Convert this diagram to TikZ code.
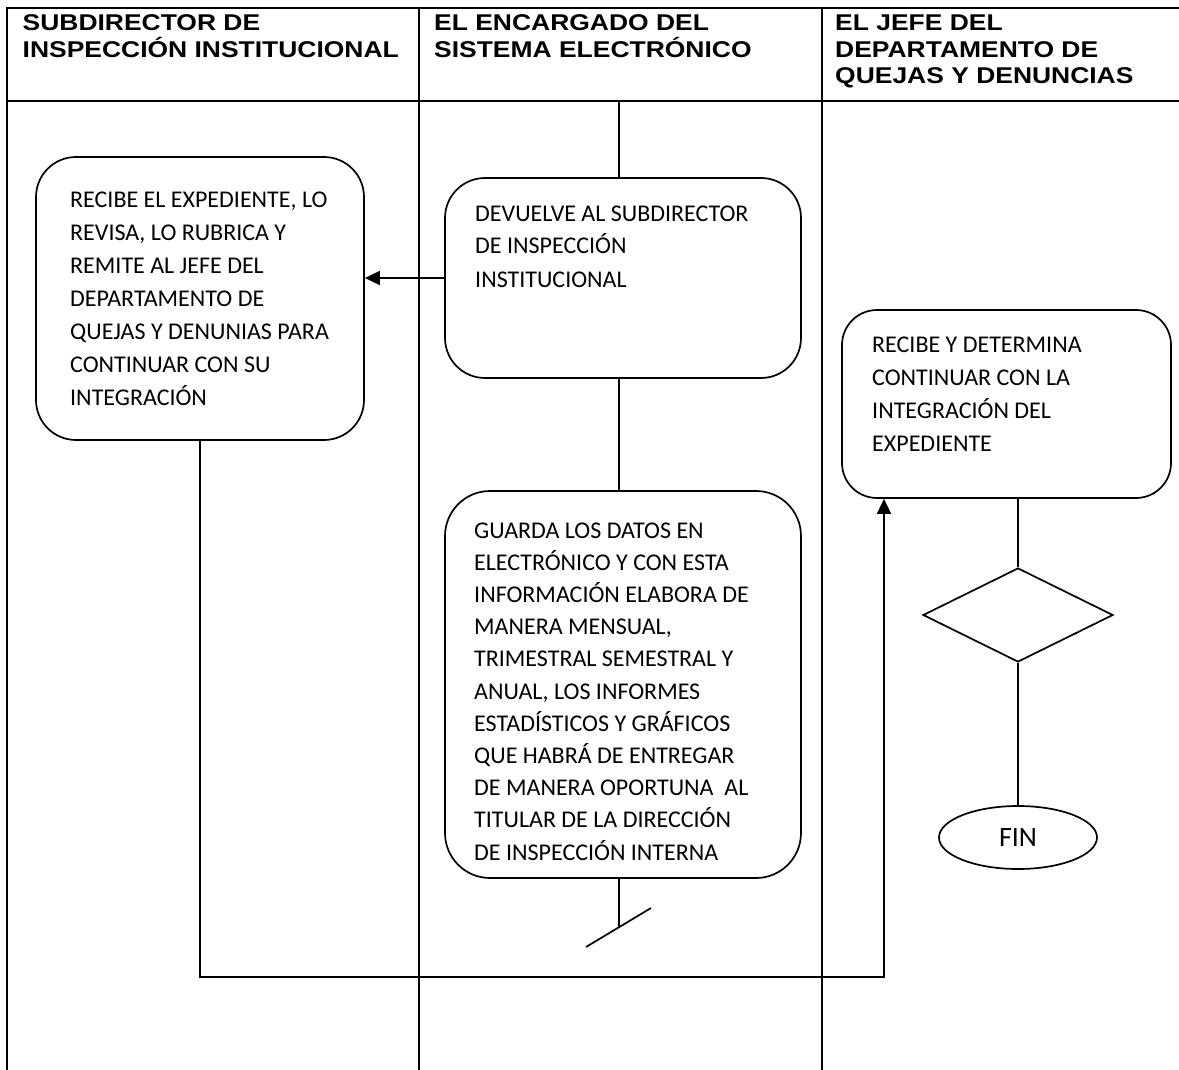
\documentclass[tikz,border=0pt]{standalone}
\usepackage{fontspec}
\setmainfont{Carlito}
\newfontfamily\cabecera[FakeStretch=1.16]{Liberation Sans}
\usetikzlibrary{shapes.geometric}
\usetikzlibrary{arrows.meta}

\tikzset{
  caja/.style={draw,line width=1.7pt,inner sep=0pt,rounded corners=#1},
  caja/.default=40pt,
  texto/.style={font=\fontsize{24}{33}\selectfont,align=left,anchor=base west,inner sep=0pt},
  titulo/.style={font=\fontsize{22.8}{26.7}\selectfont\cabecera\bfseries,align=left,anchor=base west,inner sep=0pt},
}

\begin{document}
\begin{tikzpicture}[x=1pt,y=-1pt,>={Triangle[length=15pt,width=14pt]},
    tabla/.style={line width=2pt},
    linea/.style={line width=1.7pt}]
                \useasboundingbox (0,0) rectangle (1179,1070);

                % tabla de carriles
                \draw[tabla] (7,1070) -- (7,8) -- (1179,8);
                \draw[tabla] (7,101) -- (1179,101);
                \draw[tabla] (419,8) -- (419,1070);
                \draw[tabla] (822,8) -- (822,1070);

                % (base = ultima linea)
                \node[titulo] (col1) at (22.5,57.3) {SUBDIRECTOR DE\\INSPECCIÓN INSTITUCIONAL};
                \node[titulo] (col2) at (434,57.3) {EL ENCARGADO DEL\\SISTEMA ELECTRÓNICO};
                \node[titulo] (col3) at (835,84) {EL JEFE DEL\\DEPARTAMENTO DE\\QUEJAS Y DENUNCIAS};

                % cajas
                \node[caja, minimum width=328pt, minimum height=283pt] (recibe) at (200,298.5) {};
                \node[caja, minimum width=356pt, minimum height=200pt] (devuelve) at (623,278) {};
                \node[caja=45pt, minimum width=356pt, minimum height=387pt] (guarda) at (623,684.5) {};
                \node[caja=35pt, minimum width=329pt, minimum height=188pt] (determina) at (1006.5,404) {};
                \node[diamond, draw, line width=1.7pt, inner sep=0pt, minimum width=190pt, minimum height=94pt] (rombo) at (1018,615) {};
                \node[ellipse, draw, line width=1.7pt, inner sep=0pt, minimum width=158pt, minimum height=63pt,
                      font=\fontsize{28}{32}\selectfont] (fin) at (1018,837.5) {FIN};

                \node[texto] (recibe-txt) at (70,405) {RECIBE EL EXPEDIENTE, LO\\REVISA, LO RUBRICA Y\\REMITE AL JEFE DEL\\DEPARTAMENTO DE\\QUEJAS Y DENUNIAS PARA\\CONTINUAR CON SU\\INTEGRACIÓN};
                \node[texto] (devuelve-txt) at (475,287) {DEVUELVE AL SUBDIRECTOR\\DE INSPECCIÓN\\INSTITUCIONAL};
                \node[texto, font=\fontsize{24}{32.2}\selectfont] (guarda-txt) at (474,860) {GUARDA LOS DATOS EN\\ELECTRÓNICO Y CON ESTA\\INFORMACIÓN ELABORA DE\\MANERA MENSUAL,\\TRIMESTRAL SEMESTRAL Y\\ANUAL, LOS INFORMES\\ESTADÍSTICOS Y GRÁFICOS\\QUE HABRÁ DE ENTREGAR\\DE MANERA OPORTUNA\ \ AL\\TITULAR DE LA DIRECCIÓN\\DE INSPECCIÓN INTERNA};
                \node[texto] (determina-txt) at (872,451) {RECIBE Y DETERMINA\\CONTINUAR CON LA\\INTEGRACIÓN DEL\\EXPEDIENTE};

                % conectores
                \coordinate (cabeza) at (619,101);
                \coordinate (corte) at (619,927);
                \coordinate (corte-a) at (586,947);
                \coordinate (corte-b) at (651,908);
                \coordinate (baja) at (200,977);
                \coordinate (sube) at (884,977);

                \draw[linea] (cabeza) -- (cabeza |- devuelve.north);
                \draw[linea] (cabeza |- devuelve.south) -- (cabeza |- guarda.north);
                \draw[linea] (cabeza |- guarda.south) -- (corte);
                \draw[linea] (corte-a) -- (corte-b);
                \draw[linea,->] (devuelve.west) -- (devuelve.west -| recibe.east);
                \draw[linea,->] (recibe.south) -- (baja) -- (sube) -- (sube |- determina.south);
                \draw[linea] (rombo.north |- determina.south) -- (rombo.north);
                \draw[linea] (rombo.south) -- (fin.north);
\end{tikzpicture}
\end{document}
